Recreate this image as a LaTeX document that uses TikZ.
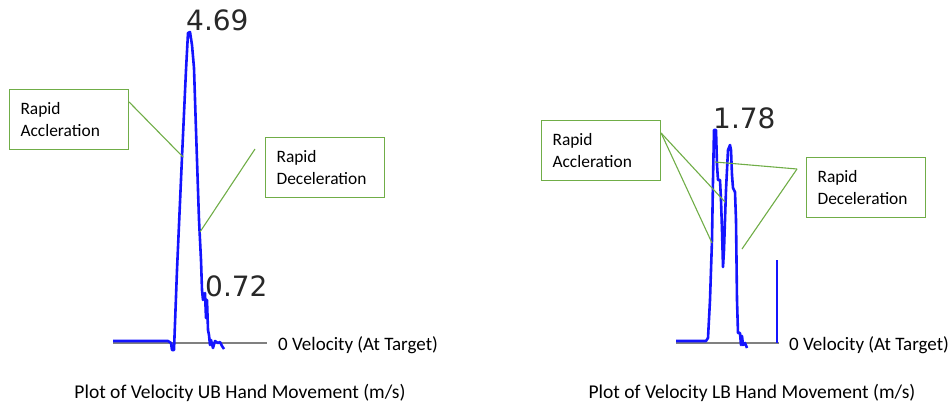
\documentclass[tikz,border=0pt]{standalone}
\usepackage{fontspec}
\setmainfont{Carlito}
\newfontfamily\plotfont{DejaVu Sans}
\usetikzlibrary{positioning}
\definecolor{calloutgreen}{HTML}{70AD47}
\definecolor{velblue}{RGB}{20,20,255}
\definecolor{axisgray}{RGB}{128,128,128}
\definecolor{peakgray}{RGB}{40,40,40}

\begin{document}
\begin{tikzpicture}[x=1pt, y=-1pt,
    callout/.style={draw=calloutgreen, line width=1.1pt, align=left, text width=97pt, inner xsep=11pt, minimum height=60pt, font=\fontsize{17.4}{22}\selectfont},
    lead/.style={calloutgreen, line width=1.1pt},
    velocity/.style={velblue, line width=2.6pt, line join=round},
    zero/.style={axisgray, line width=1.6pt},
    peak/.style={font=\plotfont\fontsize{28}{28}\selectfont, text=peakgray, inner sep=0pt, anchor=base west},
    target/.style={font=\fontsize{19}{22}\selectfont, inner sep=0pt, anchor=base west},
    caption/.style={font=\fontsize{19.5}{23}\selectfont, inner sep=0pt, anchor=base}]
    \useasboundingbox (0,0) rectangle (951,405);

    % Velocity UB - curva
    \draw[zero] (113,343) -- (267,343);
    \draw[velocity] plot coordinates {(113,341) (168,341) (171,343) (172,350) (174,350) (177,270) (182,157) (186,70) (188,33) (190,32) (192,45) (194,68) (196,130) (199,220) (201,260) (202,290) (203,300) (204,296) (205,293) (206,318) (207,300) (208,330) (209,335) (210,345) (211,340) (213,348) (215,341) (218,343) (220,342) (222,346) (224,349)};
    \node[peak] (ubmax) at (186,30) {4.69};
    \node[peak] (ubend) at (205,296) {0.72};
    \node[target] (ubzero) at (278,350) {0 Velocity (At Target)};

    % Velocity UB - callouts
    \node[callout, anchor=north west] (ubacc) at (9,89) {Rapid\\Accleration};
    \node[callout, anchor=north west] (ubdec) at (265,137) {Rapid\\Deceleration};
    \coordinate (ubaccpt) at (183,157);
    \coordinate (ubdecpt) at (200,232);
    \draw[lead] ([yshift=-13pt]ubacc.north east) -- (ubaccpt);
    \draw[lead] ([xshift=-10pt,yshift=-12pt]ubdec.north west) -- (ubdecpt);

    % Velocity LB - curva
    \draw[zero] (676,343) -- (779,343);
    \draw[velocity] plot coordinates {(676,341) (706,341) (708,338) (710,300) (712,240) (713,180) (714,130) (716,130) (717,165) (718,180) (720,180) (721,200) (722,230) (723,267) (724,250) (726,190) (728,150) (730,145) (731,150) (732,175) (733,188) (735,192) (736,220) (737,300) (738,333) (740,333) (741,345) (742,336) (743,345) (745,343) (747,348)};
    \draw[velocity] (777,260) -- (777,343);
    \node[peak] (lbmax) at (713,128) {1.78};
    \node[target] (lbzero) at (789,350) {0 Velocity (At Target)};

    % Velocity LB - callouts
    \node[callout, anchor=north west] (lbacc) at (541,120) {Rapid\\Accleration};
    \node[callout, anchor=north west] (lbdec) at (806,157) {Rapid\\Deceleration};
    \coordinate (lbaccpt1) at (725,202);
    \coordinate (lbaccpt2) at (712,243);
    \coordinate (lbdecpt1) at (715,162);
    \coordinate (lbdecpt2) at (742,249);
    \draw[lead] ([yshift=-13pt]lbacc.north east) -- (lbaccpt1);
    \draw[lead] ([yshift=-13pt]lbacc.north east) -- (lbaccpt2);
    \draw[lead] ([xshift=-9pt,yshift=-12pt]lbdec.north west) -- (lbdecpt1);
    \draw[lead] ([xshift=-9pt,yshift=-12pt]lbdec.north west) -- (lbdecpt2);

    % Legendas
    \node[caption] (ubcap) at (240,398) {Plot of Velocity UB Hand Movement (m/s)};
    \node[caption] (lbcap) at (752,398) {Plot of Velocity LB Hand Movement (m/s)};
\end{tikzpicture}
\end{document}
